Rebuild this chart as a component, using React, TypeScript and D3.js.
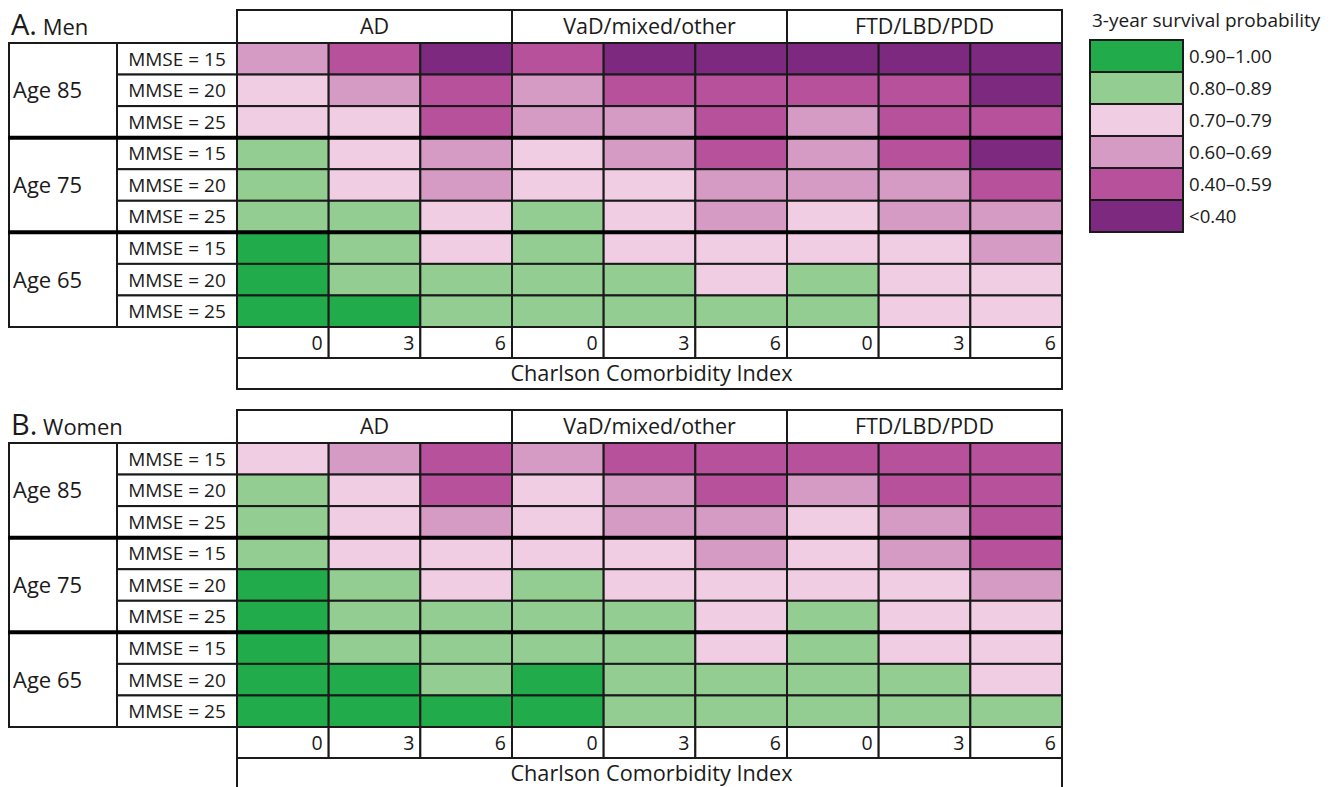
import * as d3 from "d3";
import { useEffect, useRef } from "react";

// survival class per cell: 0 = 0.90–1.00 ... 5 = <0.40
const diagnoses = ["AD", "VaD/mixed/other", "FTD/LBD/PDD"];
const cciTicks = ["0", "3", "6"];
const ageGroups = ["Age 85", "Age 75", "Age 65"];
const mmseLabels = ["MMSE = 15", "MMSE = 20", "MMSE = 25"];

const legendLabels = ["0.90–1.00", "0.80–0.89", "0.70–0.79", "0.60–0.69", "0.40–0.59", "<0.40"];
const legendColors = ["#22ab4b", "#93cd92", "#f0cde3", "#d69bc5", "#b8519c", "#7e2980"];

const menClasses = [
  [3, 4, 5, 4, 5, 5, 5, 5, 5],
  [2, 3, 4, 3, 4, 4, 4, 4, 5],
  [2, 2, 4, 3, 3, 4, 3, 4, 4],
  [1, 2, 3, 2, 3, 4, 3, 4, 5],
  [1, 2, 3, 2, 2, 3, 3, 3, 4],
  [1, 1, 2, 1, 2, 3, 2, 3, 3],
  [0, 1, 2, 1, 2, 2, 2, 2, 3],
  [0, 1, 1, 1, 1, 2, 1, 2, 2],
  [0, 0, 1, 1, 1, 1, 1, 2, 2],
];

const womenClasses = [
  [2, 3, 4, 3, 4, 4, 4, 4, 4],
  [1, 2, 4, 2, 3, 4, 3, 4, 4],
  [1, 2, 3, 2, 3, 3, 2, 3, 4],
  [1, 2, 2, 2, 2, 3, 2, 3, 4],
  [0, 1, 2, 1, 2, 2, 2, 2, 3],
  [0, 1, 1, 1, 1, 2, 1, 2, 2],
  [0, 1, 1, 1, 1, 2, 1, 2, 2],
  [0, 0, 1, 0, 1, 1, 1, 1, 2],
  [0, 0, 0, 0, 1, 1, 1, 1, 1],
];

const panels = [
  { letter: "A.", name: "Men", cells: menClasses },
  { letter: "B.", name: "Women", cells: womenClasses },
];

const FONT = "'Open Sans', 'Noto Sans', sans-serif";
const INK = "#1a1a1a";

function App() {
  const ref = useRef<SVGSVGElement | null>(null);

  useEffect(() => {
    const width = 1336;
    const height = 787;
    const svg = d3.select(ref.current).attr("width", width).attr("height", height);
    svg.selectAll("*").remove();
    svg.style("font-family", FONT);

    const color = d3
      .scaleOrdinal<number, string>()
      .domain(d3.range(legendColors.length))
      .range(legendColors);

    const cols = d3.range(diagnoses.length * cciTicks.length);
    const rows = d3.range(ageGroups.length * mmseLabels.length);

    const x = d3.scaleBand<number>().domain(cols).range([237, 1062]);
    const y = d3.scaleBand<number>().domain(rows).range([43, 327]);
    const bw = x.bandwidth();
    const rh = y.bandwidth();

    panels.forEach((p, pi) => {
      const g = svg.append("g").attr("transform", `translate(0,${pi * 400})`);

      // title
      const t = g
        .append("text")
        .attr("x", 11)
        .attr("y", 35)
        .attr("fill", INK);
      t.append("tspan").attr("font-size", 29).text(p.letter);
      t.append("tspan").attr("font-size", 22).text(" " + p.name);

      // diagnosis headers
      diagnoses.forEach((d, i) => {
        const x0 = x(i * 3)!;
        g.append("rect")
          .attr("x", x0)
          .attr("y", 10)
          .attr("width", bw * 3)
          .attr("height", 33)
          .attr("fill", "white")
          .attr("stroke", INK)
          .attr("stroke-width", 2);
        g.append("text")
          .attr("x", x0 + (bw * 3) / 2)
          .attr("y", 34)
          .attr("text-anchor", "middle")
          .attr("font-size", 21.5)
          .attr("fill", INK)
          .text(d);
      });

      // cells
      g.append("g")
        .selectAll("rect")
        .data(p.cells.flatMap((r, ri) => r.map((v, ci) => ({ ri, ci, v }))))
        .join("rect")
        .attr("x", (d) => x(d.ci)!)
        .attr("y", (d) => y(d.ri)!)
        .attr("width", bw)
        .attr("height", rh)
        .attr("fill", (d) => color(d.v))
        .attr("stroke", INK)
        .attr("stroke-width", 2);

      // row labels
      ageGroups.forEach((a, gi) => {
        const y0 = y(gi * 3)!;
        g.append("rect")
          .attr("x", 9)
          .attr("y", y0)
          .attr("width", 108)
          .attr("height", rh * 3)
          .attr("fill", "white")
          .attr("stroke", INK)
          .attr("stroke-width", 2);
        g.append("text")
          .attr("x", 13)
          .attr("y", y0 + (rh * 3) / 2)
          .attr("dy", "0.36em")
          .attr("font-size", 22)
          .attr("fill", INK)
          .text(a);
        mmseLabels.forEach((m, mi) => {
          const yy = y(gi * 3 + mi)!;
          g.append("rect")
            .attr("x", 117)
            .attr("y", yy)
            .attr("width", 120)
            .attr("height", rh)
            .attr("fill", "white")
            .attr("stroke", INK)
            .attr("stroke-width", 2);
          g.append("text")
            .attr("x", 177)
            .attr("y", yy + rh / 2)
            .attr("dy", "0.36em")
            .attr("text-anchor", "middle")
            .attr("font-size", 19)
            .attr("fill", INK)
            .text(m);
        });
      });

      // thick separators between age groups
      [3, 6].forEach((r) => {
        g.append("line")
          .attr("x1", 8)
          .attr("x2", 1063)
          .attr("y1", y(r)!)
          .attr("y2", y(r)!)
          .attr("stroke", "#000")
          .attr("stroke-width", 4);
      });

      // CCI ticks row
      const tickY = 327;
      cols.forEach((c) => {
        g.append("rect")
          .attr("x", x(c)!)
          .attr("y", tickY)
          .attr("width", bw)
          .attr("height", 31)
          .attr("fill", "white")
          .attr("stroke", INK)
          .attr("stroke-width", 2);
        g.append("text")
          .attr("x", x(c)! + bw - 6)
          .attr("y", tickY + 23)
          .attr("text-anchor", "end")
          .attr("font-size", 19.5)
          .attr("fill", INK)
          .text(cciTicks[c % 3]);
      });

      g.append("rect")
        .attr("x", 237)
        .attr("y", 358)
        .attr("width", 825)
        .attr("height", 31)
        .attr("fill", "white")
        .attr("stroke", INK)
        .attr("stroke-width", 2);
      g.append("text")
        .attr("x", 237 + 825 / 2 + 2)
        .attr("y", 381)
        .attr("text-anchor", "middle")
        .attr("font-size", 21.7)
        .attr("fill", INK)
        .text("Charlson Comorbidity Index");
    });

    // legend
    const lg = svg.append("g");
    lg.append("text")
      .attr("x", 1092)
      .attr("y", 27)
      .attr("font-size", 19)
      .attr("fill", INK)
      .text("3-year survival probability");
    const ly = d3.scaleBand<number>().domain(d3.range(legendLabels.length)).range([40, 232]);
    legendLabels.forEach((l, i) => {
      lg.append("rect")
        .attr("x", 1090)
        .attr("y", ly(i)!)
        .attr("width", 93)
        .attr("height", ly.bandwidth())
        .attr("fill", color(i))
        .attr("stroke", INK)
        .attr("stroke-width", 2);
      lg.append("text")
        .attr("x", 1189)
        .attr("y", ly(i)! + ly.bandwidth() / 2)
        .attr("dy", "0.36em")
        .attr("font-size", 18.6)
        .attr("fill", INK)
        .text(l);
    });

    return () => {
      d3.select(ref.current).selectAll("*").remove();
    };
  }, []);

  return (
    <div style={{ position: "absolute", left: 0, top: 0 }}>
      <svg ref={ref} style={{ display: "block", background: "white" }}></svg>
    </div>
  );
}

export default App;
